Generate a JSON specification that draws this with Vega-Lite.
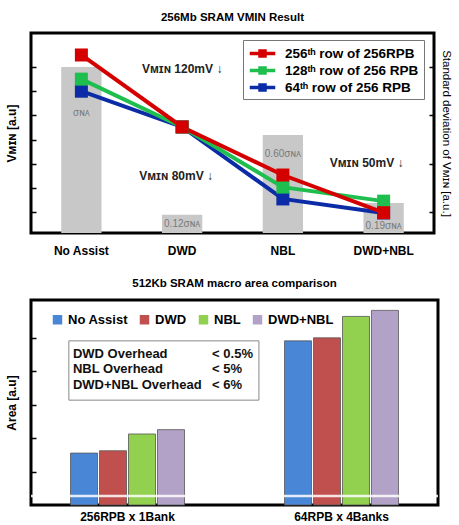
{
  "$schema": "https://vega.github.io/schema/vega-lite/v6.json",
  "padding": {"top": 10, "left": 3, "right": 2, "bottom": 0},
  "config": {
    "font": "Liberation Sans",
    "view": {"stroke": "black", "strokeWidth": 3},
    "axis": {"grid": false, "domain": false}
  },
  "spacing": 18,
  "resolve": {"scale": {"color": "independent"}},
  "vconcat": [
    {
      "title": {"text": "256Mb SRAM VMIN Result", "fontSize": 11.5, "fontWeight": "bold", "offset": 10},
      "width": 403,
      "height": 200,
      "layer": [
        {
          "data": {"values": [
            {"cond": "No Assist", "sd": 1.0, "label": "σɴᴀ"},
            {"cond": "DWD", "sd": 0.11, "label": "0.12σɴᴀ"},
            {"cond": "NBL", "sd": 0.59, "label": "0.60σɴᴀ"},
            {"cond": "DWD+NBL", "sd": 0.18, "label": "0.19σɴᴀ"}
          ]},
          "encoding": {
            "x": {"field": "cond", "type": "nominal", "sort": ["No Assist", "DWD", "NBL", "DWD+NBL"],
              "scale": {"paddingInner": 0, "paddingOuter": 0},
              "axis": {"title": null, "labelFontSize": 12, "labelFontWeight": "bold", "labelAngle": 0, "tickSize": -5, "tickWidth": 1.5, "tickColor": "black", "labelPadding": 17}}
          },
          "layer": [
            {
              "mark": {"type": "bar", "color": "#c8c8c8", "width": {"band": 0.4}},
              "encoding": {
                "y": {"field": "sd", "type": "quantitative", "scale": {"domain": [0, 1.205], "nice": false},
                  "axis": {"orient": "right", "values": [1.0, 0.854, 0.709, 0.563, 0.418, 0.272, 0.126], "labels": false, "tickSize": -5, "tickWidth": 1.5, "tickColor": "black",
                    "title": "Standard deviation of Vᴍɪɴ [a.u.]", "titleAngle": 90, "titleFontSize": 11.5, "titleFontWeight": "normal", "titlePadding": 6}}
              }
            },
            {
              "transform": [{"filter": "datum.cond === 'No Assist'"}],
              "mark": {"type": "text", "fontSize": 10, "color": "#7a7a7a"},
              "encoding": {"y": {"datum": 0.72}, "text": {"field": "label"}}
            },
            {
              "transform": [{"filter": "datum.cond === 'DWD'"}],
              "mark": {"type": "text", "fontSize": 10, "color": "#7a7a7a"},
              "encoding": {"y": {"datum": 0.054}, "text": {"field": "label"}}
            },
            {
              "transform": [{"filter": "datum.cond === 'NBL'"}],
              "mark": {"type": "text", "fontSize": 10, "color": "#7a7a7a"},
              "encoding": {"y": {"datum": 0.476}, "text": {"field": "label"}}
            },
            {
              "transform": [{"filter": "datum.cond === 'DWD+NBL'"}],
              "mark": {"type": "text", "fontSize": 10, "color": "#7a7a7a"},
              "encoding": {"y": {"datum": 0.042}, "text": {"field": "label"}}
            }
          ]
        },
        {
          "data": {"values": [
            {"cond": "No Assist", "series": "64ᵗʰ row of 256 RPB", "vmin": 6.0},
            {"cond": "DWD", "series": "64ᵗʰ row of 256 RPB", "vmin": 4.52},
            {"cond": "NBL", "series": "64ᵗʰ row of 256 RPB", "vmin": 1.54},
            {"cond": "DWD+NBL", "series": "64ᵗʰ row of 256 RPB", "vmin": 0.96},
            {"cond": "No Assist", "series": "128ᵗʰ row of 256 RPB", "vmin": 6.5},
            {"cond": "DWD", "series": "128ᵗʰ row of 256 RPB", "vmin": 4.52},
            {"cond": "NBL", "series": "128ᵗʰ row of 256 RPB", "vmin": 2.03},
            {"cond": "DWD+NBL", "series": "128ᵗʰ row of 256 RPB", "vmin": 1.45},
            {"cond": "No Assist", "series": "256ᵗʰ row of 256RPB", "vmin": 7.5},
            {"cond": "DWD", "series": "256ᵗʰ row of 256RPB", "vmin": 4.52},
            {"cond": "NBL", "series": "256ᵗʰ row of 256RPB", "vmin": 2.53},
            {"cond": "DWD+NBL", "series": "256ᵗʰ row of 256RPB", "vmin": 0.97}
          ]},
          "encoding": {
            "x": {"field": "cond", "type": "nominal", "sort": ["No Assist", "DWD", "NBL", "DWD+NBL"]},
            "y": {"field": "vmin", "type": "quantitative", "scale": {"domain": [0.13, 8.41], "nice": false, "zero": false},
              "axis": {"orient": "left", "values": [1, 2, 3, 4, 5, 6, 7], "labels": false, "tickSize": -5, "tickWidth": 1.5, "tickColor": "black",
                "title": "Vᴍɪɴ [a.u]", "titleFontSize": 12, "titleFontWeight": "bold", "titlePadding": 12}}
          },
          "layer": [
            {
              "mark": {"type": "line", "strokeWidth": 4},
              "encoding": {
                "color": {"field": "series", "type": "nominal",
                  "scale": {"domain": ["256ᵗʰ row of 256RPB", "128ᵗʰ row of 256 RPB", "64ᵗʰ row of 256 RPB"], "range": ["#d40000", "#1fbf4f", "#0b2ca6"]},
                  "legend": {"title": null, "orient": "none", "legendX": 212, "legendY": 7, "strokeColor": "#777", "fillColor": "white", "padding": 5, "rowPadding": 2,
                    "symbolType": "M-1.5,-0.22H1.5V0.22H-1.5Z M-0.5,-0.5H0.5V0.5H-0.5Z", "symbolSize": 289, "symbolStrokeWidth": 0, "symbolOffset": 6,
                    "labelFontSize": 13.5, "labelFontWeight": "bold", "labelOffset": 14,
                    "encode": {"symbols": {"update": {"fill": {"signal": "['#d40000','#1fbf4f','#0b2ca6'][datum.index]"}, "strokeWidth": {"value": 0}}}}}}
              }
            },
            {
              "mark": {"type": "point", "shape": "square", "filled": true, "size": 169, "opacity": 1},
              "encoding": {"color": {"field": "series", "type": "nominal"}}
            },
            {
              "transform": [{"filter": "datum.cond === 'DWD' && datum.series === '256ᵗʰ row of 256RPB'"}],
              "mark": {"type": "text", "fontSize": 12, "fontWeight": "bold", "color": "#222", "text": "Vᴍɪɴ 120mV ↓"},
              "encoding": {"y": {"datum": 6.92}}
            },
            {
              "transform": [{"filter": "datum.cond === 'DWD' && datum.series === '256ᵗʰ row of 256RPB'"}],
              "mark": {"type": "text", "fontSize": 12, "fontWeight": "bold", "color": "#222", "dx": -6, "text": "Vᴍɪɴ 80mV ↓"},
              "encoding": {"y": {"datum": 2.49}}
            },
            {
              "transform": [{"filter": "datum.cond === 'DWD+NBL' && datum.series === '256ᵗʰ row of 256RPB'"}],
              "mark": {"type": "text", "fontSize": 12, "fontWeight": "bold", "color": "#222", "dx": -17, "text": "Vᴍɪɴ 50mV ↓"},
              "encoding": {"y": {"datum": 3.03}}
            }
          ]
        }
      ],
      "resolve": {"scale": {"y": "independent"}}
    },
    {
      "title": {"text": "512Kb SRAM macro area comparison", "fontSize": 11.5, "fontWeight": "bold", "offset": 11},
      "width": 407,
      "height": 205,
      "layer": [
        {
          "data": {"values": [
            {"config": "256RPB x 1Bank", "assist": "No Assist", "area": 1.55},
            {"config": "256RPB x 1Bank", "assist": "DWD", "area": 1.62},
            {"config": "256RPB x 1Bank", "assist": "NBL", "area": 2.12},
            {"config": "256RPB x 1Bank", "assist": "DWD+NBL", "area": 2.25},
            {"config": "64RPB x 4Banks", "assist": "No Assist", "area": 4.90},
            {"config": "64RPB x 4Banks", "assist": "DWD", "area": 4.99},
            {"config": "64RPB x 4Banks", "assist": "NBL", "area": 5.63},
            {"config": "64RPB x 4Banks", "assist": "DWD+NBL", "area": 5.81}
          ]},
          "mark": {"type": "bar", "stroke": "#555", "strokeWidth": 0.8},
          "encoding": {
            "x": {"field": "config", "type": "nominal", "sort": ["256RPB x 1Bank", "64RPB x 4Banks"],
              "scale": {"paddingInner": 0.4, "paddingOuter": 0.151},
              "axis": {"title": null, "labelFontSize": 12, "labelFontWeight": "bold", "labelAngle": 0, "ticks": false, "labelPadding": 6}},
            "xOffset": {"field": "assist", "type": "nominal", "sort": ["No Assist", "DWD", "NBL", "DWD+NBL"],
              "scale": {"paddingInner": 0.069, "paddingOuter": 0.248}},
            "y": {"field": "area", "type": "quantitative", "scale": {"domain": [0, 6.12], "nice": false},
              "axis": {"values": [1, 2, 3, 4, 5], "labels": false, "tickSize": -5, "tickWidth": 1.5, "tickColor": "black",
                "title": "Area [a.u]", "titleFontSize": 12, "titleFontWeight": "bold", "titlePadding": 12}},
            "color": {"field": "assist", "type": "nominal",
              "scale": {"domain": ["No Assist", "DWD", "NBL", "DWD+NBL"], "range": ["#4a86d6", "#c0504d", "#92d050", "#b3a2c7"]},
              "legend": {"title": null, "orient": "none", "legendX": 20, "legendY": 13, "direction": "horizontal",
                "symbolType": "square", "symbolSize": 90, "symbolStrokeWidth": 0, "labelFontSize": 13, "labelFontWeight": "bold",
                "labelOffset": 4, "columnPadding": 10, "padding": 0}}
          }
        },
        {
          "data": {"values": [{"break": "axis break"}]},
          "mark": {"type": "rule", "color": "white", "strokeWidth": 2.5, "opacity": 0.85},
          "encoding": {"y": {"datum": 0.27}}
        },
        {
          "data": {"values": [{"left": ["DWD Overhead", "NBL Overhead", "DWD+NBL Overhead"], "right": ["< 0.5%", "< 5%", "< 6%"]}]},
          "layer": [
            {
              "mark": {"type": "rect", "fill": "white", "stroke": "#888", "strokeWidth": 1},
              "encoding": {
                "x": {"datum": 0.093, "type": "quantitative", "scale": {"domain": [0, 1], "nice": false}, "axis": null},
                "x2": {"datum": 0.56},
                "y": {"datum": 4.9},
                "y2": {"datum": 3.13}
              }
            },
            {
              "mark": {"type": "text", "align": "left", "baseline": "middle", "fontSize": 13, "fontWeight": "bold", "lineHeight": 15.5, "color": "#111"},
              "encoding": {
                "x": {"datum": 0.103, "type": "quantitative"},
                "y": {"datum": 4.51},
                "text": {"field": "left"}
              }
            },
            {
              "mark": {"type": "text", "align": "left", "baseline": "middle", "fontSize": 13, "fontWeight": "bold", "lineHeight": 15.5, "color": "#111"},
              "encoding": {
                "x": {"datum": 0.445, "type": "quantitative"},
                "y": {"datum": 4.51},
                "text": {"field": "right"}
              }
            }
          ]
        }
      ],
      "resolve": {"scale": {"x": "independent"}}
    }
  ]
}
